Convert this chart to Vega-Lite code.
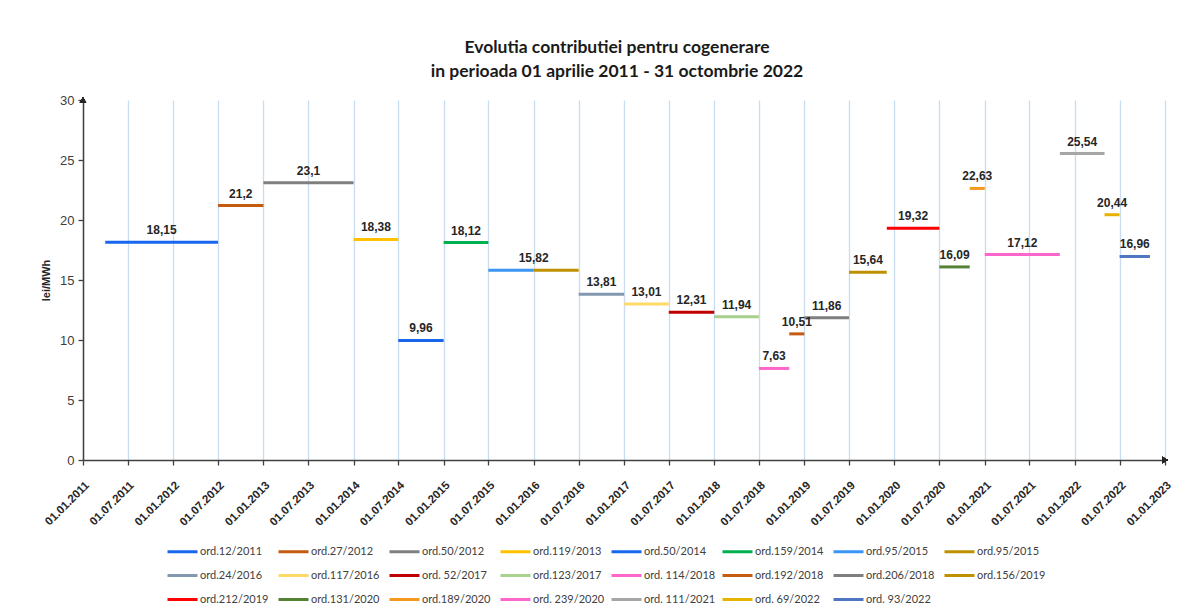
{
  "$schema": "https://vega.github.io/schema/vega-lite/v6.json",
  "width": 1082,
  "height": 360,
  "autosize": {"type": "none"},
  "padding": {"left": 83, "top": 100, "right": 27, "bottom": 150},
  "background": "white",
  "config": {
    "locale": {"number": {"decimal": ",", "thousands": ".", "grouping": [3], "currency": ["", " lei"]}},
    "view": {"stroke": null},
    "legend": {"padding": 0}
  },
  "title": {
    "text": ["Evolutia contributiei pentru cogenerare", "in perioada 01 aprilie 2011 - 31 octombrie 2022"],
    "font": "Lato",
    "fontSize": 17.5,
    "fontWeight": "bold",
    "color": "#1a1a1a",
    "lineHeight": 24,
    "anchor": "middle",
    "offset": 14,
    "dx": -7
  },
  "data": {
    "values": [
      {"series": "ord.12/2011", "start": "2011/04/01", "end": "2012/07/01", "value": 18.15},
      {"series": "ord.27/2012", "start": "2012/07/01", "end": "2013/01/01", "value": 21.2},
      {"series": "ord.50/2012", "start": "2013/01/01", "end": "2014/01/01", "value": 23.1},
      {"series": "ord.119/2013", "start": "2014/01/01", "end": "2014/07/01", "value": 18.38},
      {"series": "ord.50/2014", "start": "2014/07/01", "end": "2015/01/01", "value": 9.96},
      {"series": "ord.159/2014", "start": "2015/01/01", "end": "2015/07/01", "value": 18.12},
      {"series": "ord.95/2015", "start": "2015/07/01", "end": "2016/01/01", "value": 15.82},
      {"series": "ord.95/2015 ", "start": "2016/01/01", "end": "2016/07/01", "value": 15.82},
      {"series": "ord.24/2016", "start": "2016/07/01", "end": "2017/01/01", "value": 13.81},
      {"series": "ord.117/2016", "start": "2017/01/01", "end": "2017/07/01", "value": 13.01},
      {"series": "ord. 52/2017", "start": "2017/07/01", "end": "2018/01/01", "value": 12.31},
      {"series": "ord.123/2017", "start": "2018/01/01", "end": "2018/07/01", "value": 11.94},
      {"series": "ord. 114/2018", "start": "2018/07/01", "end": "2018/11/01", "value": 7.63},
      {"series": "ord.192/2018", "start": "2018/11/01", "end": "2019/01/01", "value": 10.51},
      {"series": "ord.206/2018", "start": "2019/01/01", "end": "2019/07/01", "value": 11.86},
      {"series": "ord.156/2019", "start": "2019/07/01", "end": "2019/12/01", "value": 15.64},
      {"series": "ord.212/2019", "start": "2019/12/01", "end": "2020/07/01", "value": 19.32},
      {"series": "ord.131/2020", "start": "2020/07/01", "end": "2020/11/01", "value": 16.09},
      {"series": "ord.189/2020", "start": "2020/11/01", "end": "2021/01/01", "value": 22.63},
      {"series": "ord. 239/2020", "start": "2021/01/01", "end": "2021/11/01", "value": 17.12},
      {"series": "ord. 111/2021", "start": "2021/11/01", "end": "2022/05/01", "value": 25.54},
      {"series": "ord. 69/2022", "start": "2022/05/01", "end": "2022/07/01", "value": 20.44},
      {"series": "ord. 93/2022", "start": "2022/07/01", "end": "2022/11/01", "value": 16.96}
    ],
    "format": {"parse": {"start": "date", "end": "date"}}
  },
  "layer": [
    {
      "mark": {"type": "rule", "strokeWidth": 3, "strokeCap": "butt"},
      "encoding": {
        "x": {
          "field": "start",
          "type": "temporal",
          "scale": {"domain": [{"year": 2011, "month": 1, "date": 1}, {"year": 2023, "month": 1, "date": 1}]},
          "axis": {
            "title": null,
            "format": "%d.%m.%Y",
            "tickCount": {"interval": "month", "step": 6},
            "labelAngle": -45,
            "labelFont": "Liberation Sans",
            "labelFontWeight": "bold",
            "labelFontSize": 11.5,
            "labelColor": "#262626",
            "labelPadding": 14,
            "labelOverlap": false,
            "labelFlush": false,
            "grid": true,
            "gridColor": "#C9DCF0",
            "gridWidth": 1.3,
            "domainColor": "#404040",
            "domainWidth": 1.5,
            "tickColor": "#404040",
            "tickSize": 5,
            "tickWidth": 1.3
          }
        },
        "x2": {"field": "end"},
        "y": {
          "field": "value",
          "type": "quantitative",
          "scale": {"domain": [0, 30], "nice": false},
          "axis": {
            "title": "lei/MWh",
            "titleFont": "Liberation Sans",
            "titleFontSize": 11,
            "titleFontWeight": "bold",
            "titleColor": "#262626",
            "titlePadding": 8,
            "values": [0, 5, 10, 15, 20, 25, 30],
            "labelFont": "Liberation Sans",
            "labelFontSize": 13,
            "labelColor": "#404040",
            "labelPadding": 4,
            "grid": false,
            "domainColor": "#404040",
            "domainWidth": 1.5,
            "tickColor": "#404040",
            "tickSize": 5,
            "tickWidth": 1.3
          }
        },
        "color": {
          "field": "series",
          "type": "nominal",
          "sort": null,
          "scale": {
            "domain": ["ord.12/2011", "ord.27/2012", "ord.50/2012", "ord.119/2013", "ord.50/2014", "ord.159/2014", "ord.95/2015", "ord.95/2015 ", "ord.24/2016", "ord.117/2016", "ord. 52/2017", "ord.123/2017", "ord. 114/2018", "ord.192/2018", "ord.206/2018", "ord.156/2019", "ord.212/2019", "ord.131/2020", "ord.189/2020", "ord. 239/2020", "ord. 111/2021", "ord. 69/2022", "ord. 93/2022"],
            "range": ["#1766EE", "#C55A11", "#7F7F7F", "#FFC000", "#1766EE", "#00B050", "#3A95F5", "#BF9000", "#8497B0", "#FFD966", "#C00000", "#A9D18E", "#FF66CC", "#C55A11", "#7F7F7F", "#BF9000", "#FF0000", "#548235", "#F39A1E", "#FF66CC", "#A6A6A6", "#E6B300", "#4F76C0"]
          },
          "legend": {
            "title": null,
            "orient": "none",
            "legendX": 83,
            "legendY": 435,
            "direction": "horizontal",
            "columns": 8,
            "gridAlign": "all",
            "columnPadding": 0,
            "rowPadding": 1,
            "symbolType": "stroke",
            "symbolSize": 900,
            "symbolStrokeWidth": 3,
            "labelFont": "Lato",
            "labelFontSize": 11,
            "labelColor": "#404040",
            "labelOffset": 1,
            "labelLimit": 200
          }
        }
      }
    },
    {
      "transform": [
        {"fold": ["start", "end"], "as": ["edge", "when"]},
        {"aggregate": [{"op": "mean", "field": "when", "as": "mid"}], "groupby": ["value"]}
      ],
      "mark": {"type": "text", "baseline": "bottom", "dy": -5, "font": "Liberation Sans", "fontSize": 12, "fontWeight": "bold", "color": "#262626"},
      "encoding": {
        "x": {"field": "mid", "type": "temporal"},
        "y": {"field": "value", "type": "quantitative"},
        "text": {"field": "value", "type": "quantitative", "format": ".2~f"}
      }
    },
    {
      "mark": {"type": "point", "shape": "triangle-up", "filled": true, "size": 40, "color": "#262626", "opacity": 1},
      "encoding": {
        "x": {"datum": {"year": 2011, "month": 1, "date": 1}, "type": "temporal"},
        "y": {"datum": 30, "type": "quantitative"}
      }
    },
    {
      "mark": {"type": "point", "shape": "triangle-right", "filled": true, "size": 40, "color": "#262626", "opacity": 1},
      "encoding": {
        "x": {"datum": {"year": 2023, "month": 1, "date": 1}, "type": "temporal"},
        "y": {"datum": 0, "type": "quantitative"}
      }
    }
  ]
}
